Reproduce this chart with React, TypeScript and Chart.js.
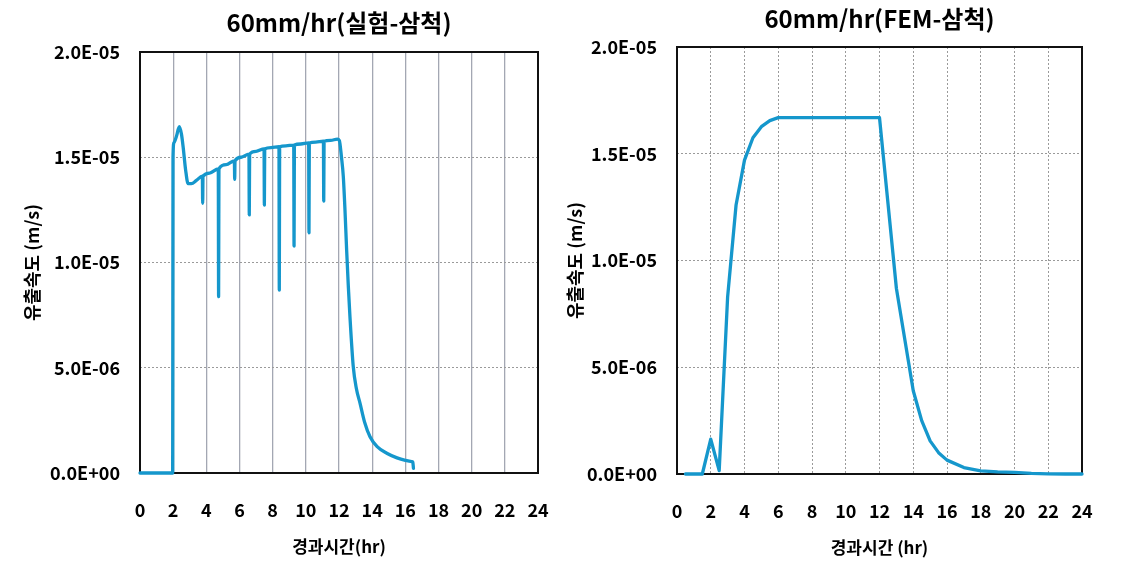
import React, { useEffect, useRef } from "react";
import { Chart, registerables } from "chart.js";

Chart.register(...registerables);

const FONT = '"Noto Sans CJK KR", "Noto Sans", sans-serif';

const leftTitle = "60mm/hr(실험-삼척)";
const rightTitle = "60mm/hr(FEM-삼척)";
const yAxisTitle = "유출속도 (m/s)";
const leftXTitle = "경과시간(hr)";
const rightXTitle = "경과시간 (hr)";

const xMin = 0;
const xMax = 24;
const xStep = 2;
const yMin = 0;
const yMax = 2.0e-5;
const yStep = 5.0e-6;
const yTickLabels = ["0.0E+00", "5.0E-06", "1.0E-05", "1.5E-05", "2.0E-05"];

// Experiment (실험) series
const expHours = [
  0, 1.97, 1.99, 2.05, 2.2, 2.37, 2.5, 2.6, 2.75, 2.9, 3.1, 3.4,
  3.76, 3.78, 3.8, 4.2, 4.72, 4.74, 4.76, 5.2, 5.69, 5.71, 5.73, 6.1,
  6.57, 6.59, 6.61, 7.0, 7.48, 7.5, 7.52, 7.9, 8.38, 8.4, 8.42, 8.8,
  9.27, 9.29, 9.31, 9.7, 10.17, 10.19, 10.21, 10.6, 11.06, 11.08, 11.1, 11.5,
  11.9, 12.02, 12.15, 12.26, 12.36, 12.46, 12.56, 12.66, 12.86, 13.05, 13.27, 13.55,
  13.87, 14.3, 14.88, 15.5, 16.0, 16.39, 16.45, 16.49,
];
const expValues = [
  0, 0, 1.5e-5, 1.57e-5, 1.6e-5, 1.645e-5, 1.61e-5, 1.55e-5, 1.44e-5, 1.375e-5, 1.375e-5, 1.39e-5,
  1.41e-5, 1.281e-5, 1.41e-5, 1.425e-5, 1.445e-5, 8.38e-6, 1.445e-5, 1.465e-5, 1.483e-5, 1.395e-5, 1.483e-5, 1.5e-5,
  1.515e-5, 1.226e-5, 1.515e-5, 1.528e-5, 1.54e-5, 1.273e-5, 1.54e-5, 1.546e-5, 1.55e-5, 8.69e-6, 1.55e-5, 1.554e-5,
  1.558e-5, 1.078e-5, 1.558e-5, 1.563e-5, 1.568e-5, 1.141e-5, 1.568e-5, 1.572e-5, 1.576e-5, 1.292e-5, 1.576e-5, 1.58e-5,
  1.586e-5, 1.58e-5, 1.5e-5, 1.408e-5, 1.25e-5, 1.06e-5, 8.9e-6, 7.43e-6, 5.05e-6, 4.0e-6, 3.31e-6, 2.4e-6,
  1.72e-6, 1.25e-6, 9.4e-7, 7.2e-7, 6.0e-7, 5.4e-7, 5.2e-7, 2.2e-7,
];

// FEM series
const femHours = [
  0.5, 1, 1.5, 2, 2.5, 3, 3.5, 4, 4.5, 5, 5.5, 6, 7, 8, 9, 10, 11, 12,
  13, 14, 14.5, 15, 15.5, 16, 17, 18, 19, 20, 21, 22, 23, 24,
];
const femValues = [
  0, 0, 0, 1.63e-6, 1.6e-7, 8.3e-6, 1.26e-5, 1.47e-5, 1.575e-5, 1.627e-5, 1.655e-5, 1.669e-5,
  1.669e-5, 1.669e-5, 1.669e-5, 1.669e-5, 1.669e-5, 1.669e-5,
  8.7e-6, 3.9e-6, 2.5e-6, 1.55e-6, 1.0e-6, 6.5e-7, 3.0e-7, 1.5e-7, 1.0e-7, 8e-8, 3e-8, 1e-8, 0, 0,
];

const LINE_COLOR = "#1597cc";

const framePlugin = {
  id: "frame",
  beforeDatasetsDraw(chart: any) {
    const { ctx, chartArea } = chart;
    const { left, top, right, bottom } = chartArea;
    ctx.save();
    ctx.strokeStyle = "#111";
    ctx.lineWidth = 2;
    ctx.strokeRect(left, top, right - left, bottom - top);
    ctx.restore();
  },
};

interface Params {
  hours: number[];
  values: number[];
  title: string;
  xTitle: string;
  titlePad: { top: number; bottom: number };
  yAxisWidth: number;
  yTitlePad: number;
  xAxisHeight: number;
  xTitlePad: number;
  rightPad: number;
  xGridSolid: boolean;
  smooth: boolean;
}

function makeConfig(p: Params): any {
  const data = p.hours.map((h, i) => ({ x: h, y: p.values[i] }));
  return {
    type: "line",
    data: {
      datasets: [
        {
          data,
          borderColor: LINE_COLOR,
          borderWidth: 3.3,
          pointRadius: 0,
          tension: 0,
          cubicInterpolationMode: p.smooth ? "monotone" : "default",
          borderJoinStyle: "round",
          borderCapStyle: "round",
          clip: 6,
          fill: false,
        },
      ],
    },
    options: {
      animation: false,
      responsive: false,
      events: [],
      layout: { padding: { left: 0, right: p.rightPad, top: 0, bottom: 0 } },
      plugins: {
        legend: { display: false },
        tooltip: { enabled: false },
        title: {
          display: true,
          text: p.title,
          color: "#000",
          fullSize: false,
          font: { family: FONT, size: 24, weight: "bold", lineHeight: 1.2 },
          padding: p.titlePad,
        },
      },
      scales: {
        x: {
          type: "linear",
          min: xMin,
          max: xMax,
          afterFit: (s: any) => {
            s.height = p.xAxisHeight;
          },
          ticks: {
            stepSize: xStep,
            autoSkip: false,
            maxRotation: 0,
            color: "#000",
            padding: 0,
            font: { family: FONT, size: 18, weight: "bold", lineHeight: 1.2 },
          },
          grid: {
            drawTicks: true,
            tickLength: 26,
            tickColor: "rgba(0,0,0,0)",
            color: p.xGridSolid ? "#a3a7b3" : "#9a9a9a",
            lineWidth: p.xGridSolid ? 1.3 : 1,
          },
          border: { display: false, dash: p.xGridSolid ? [] : [2, 2] },
          title: {
            display: true,
            text: p.xTitle,
            color: "#000",
            font: { family: FONT, size: 17, weight: "bold", lineHeight: 1.2 },
            padding: { top: 0, bottom: p.xTitlePad },
          },
        },
        y: {
          type: "linear",
          min: yMin,
          max: yMax,
          afterFit: (s: any) => {
            s.width = p.yAxisWidth;
          },
          ticks: {
            stepSize: yStep,
            color: "#000",
            padding: 20,
            font: { family: FONT, size: 18, weight: "bold", lineHeight: 1.2 },
            callback: (v: any) => yTickLabels[Math.round(Number(v) / yStep)] ?? "",
          },
          grid: {
            drawTicks: false,
            color: "#9a9a9a",
            lineWidth: 1,
          },
          border: { display: false, dash: [2, 2] },
          title: {
            display: true,
            text: yAxisTitle,
            color: "#000",
            font: { family: FONT, size: 18, weight: "bold", lineHeight: 1.2 },
            padding: { top: p.yTitlePad, bottom: 0 },
          },
        },
      },
    },
    plugins: [framePlugin],
  };
}

function ChartCanvas({ params, width, height, left }: { params: Params; width: number; height: number; left: number }) {
  const ref = useRef<HTMLCanvasElement | null>(null);
  useEffect(() => {
    if (!ref.current) return;
    const chart = new Chart(ref.current, makeConfig(params));
    return () => chart.destroy();
  }, []);
  return (
    <canvas
      ref={ref}
      width={width}
      height={height}
      style={{ position: "absolute", left, top: 0, width, height, display: "block" }}
    />
  );
}

const leftParams: Params = {
  hours: expHours,
  values: expValues,
  title: leftTitle,
  xTitle: leftXTitle,
  titlePad: { top: 8, bottom: 15.2 },
  yAxisWidth: 140,
  yTitlePad: 21,
  xAxisHeight: 93,
  xTitlePad: 9,
  rightPad: 22,
  xGridSolid: true,
  smooth: true,
};

const rightParams: Params = {
  hours: femHours,
  values: femValues,
  title: rightTitle,
  xTitle: rightXTitle,
  titlePad: { top: 4, bottom: 14.2 },
  yAxisWidth: 117,
  yTitlePad: 4,
  xAxisHeight: 92,
  xTitlePad: 8,
  rightPad: 39,
  xGridSolid: false,
  smooth: false,
};

export default function App() {
  return (
    <div style={{ position: "absolute", left: 0, top: 0, width: 1121, height: 566, background: "#fff", overflow: "hidden" }}>
      <ChartCanvas params={leftParams} width={560} height={566} left={0} />
      <ChartCanvas params={rightParams} width={561} height={566} left={560} />
    </div>
  );
}
